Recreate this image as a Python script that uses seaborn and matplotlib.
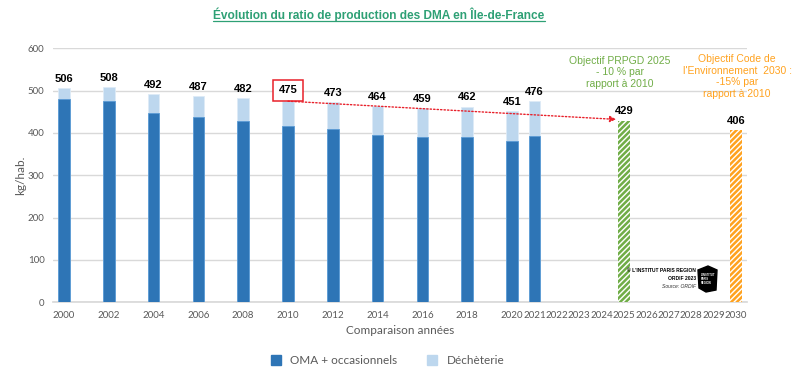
import matplotlib
matplotlib.use("Agg")
import matplotlib.pyplot as plt
import seaborn as sns
import pandas as pd
from matplotlib.patches import Polygon
from matplotlib.lines import Line2D

# ---------------- data ----------------
years = ["2000", "2002", "2004", "2006", "2008", "2010", "2012", "2014", "2016", "2018", "2020", "2021"]
oma = [480, 476, 447, 437, 428, 416, 409, 395, 390, 391, 381, 393]
decheterie = [26, 32, 45, 50, 54, 59, 64, 69, 69, 71, 70, 83]
totals = [506, 508, 492, 487, 482, 475, 473, 464, 459, 462, 451, 476]

target_years = ["2025", "2030"]
target_values = [429, 406]

axis_years = [str(y) for y in range(2000, 2031)]
shown_ticks = ["2000", "2002", "2004", "2006", "2008", "2010", "2012", "2014", "2016", "2018",
               "2020", "2021", "2022", "2023", "2024", "2025", "2026", "2027", "2028", "2029", "2030"]

# ---------------- style ----------------
sns.set_theme(style="white")
plt.rcParams["font.family"] = ["Liberation Sans", "DejaVu Sans"]
plt.rcParams["hatch.linewidth"] = 1.8

DARK = "#2E75B6"
LIGHT = "#BDD7EE"
GREEN = "#70AD47"
ORANGE = "#FFA21F"
GRAY = "#595959"
TITLE = "#2EA075"

fig = plt.figure(figsize=(8, 3.8), dpi=100)
ax = fig.add_axes([0.066, 0.2045, 0.868, 0.6685])

stack_top = [o + d for o, d in zip(oma, decheterie)]
df = pd.DataFrame({"year": years, "oma": oma, "top": stack_top})
df_t = pd.DataFrame({"year": target_years, "value": target_values})

sns.barplot(data=df, x="year", y="top", order=axis_years, color=LIGHT, saturation=1,
            width=0.52, ax=ax, edgecolor="#DDEBF7", linewidth=0.6, zorder=2)
sns.barplot(data=df, x="year", y="oma", order=axis_years, color=DARK, saturation=1,
            width=0.52, ax=ax, edgecolor="#5B9BD5", linewidth=0.6, zorder=3)
sns.barplot(data=df_t, x="year", y="value", order=axis_years, palette=[GREEN, ORANGE],
            hue="year", legend=False, saturation=1, width=0.52, ax=ax, zorder=3)

# hatch target bars
for cont, col in zip(ax.containers[2:], [GREEN, ORANGE]):
    for p in cont:
        if p.get_height() and p.get_height() > 0:
            p.set_facecolor("white")
            p.set_edgecolor(col)
            p.set_hatch("//////")
            p.set_linewidth(0)

ax.set_ylim(0, 600)
ax.set_xlim(-0.5, 30.5)
ax.set_yticks([0, 100, 200, 300, 400, 500, 600])
ax.grid(axis="y", color="#D9D9D9", linewidth=1, zorder=0)
ax.set_axisbelow(True)
for s in ["top", "right", "left"]:
    ax.spines[s].set_visible(False)
ax.spines["bottom"].set_color("#D9D9D9")
ax.tick_params(axis="both", length=0, labelsize=7, labelcolor=GRAY, pad=6)
ax.set_xticks(range(len(axis_years)))
ax.set_xticklabels([y if y in shown_ticks else "" for y in axis_years], fontfamily="Lato")
for lab in ax.get_yticklabels():
    lab.set_fontfamily("Lato")
ax.set_xlabel("Comparaison années", fontsize=8.5, color=GRAY, fontfamily="Lato", labelpad=4)
ax.set_ylabel("kg/hab.", fontsize=8.5, color=GRAY, fontfamily="Lato", labelpad=1)

pos = {y: i for i, y in enumerate(axis_years)}

# value labels
for y, t in zip(years, totals):
    if y == "2010":
        ax.text(pos[y], t + 14, str(t), ha="center", va="bottom", fontsize=8, fontweight="bold",
                color="black", zorder=6,
                bbox=dict(boxstyle="square,pad=0.5", fc="white", ec="#E8202A", lw=1.1))
    else:
        ax.text(pos[y], t + 10, str(t), ha="center", va="bottom", fontsize=8, fontweight="bold",
                color="black", zorder=6)
for y, t in zip(target_years, target_values):
    ax.text(pos[y], t + 10, str(t), ha="center", va="bottom", fontsize=8, fontweight="bold",
            color="black", zorder=6)

# red dotted arrow
ax.annotate("", xy=(pos["2025"] - 0.35, 432), xytext=(pos["2010"], 475),
            arrowprops=dict(arrowstyle="-|>", color="#E8202A", linestyle=(0, (1, 1.5)),
                            lw=1, mutation_scale=9, shrinkA=0, shrinkB=0), zorder=7)

# objective annotations
ax.text(pos["2025"] - 0.2, 582, "Objectif PRPGD 2025\n- 10 % par\nrapport à 2010", ha="center",
        va="top", fontsize=7.5, color=GREEN, linespacing=1.2)
ax.text(pos["2030"] + 0.05, 587, "Objectif Code de\nl'Environnement  2030 :\n-15% par\nrapport à 2010",
        ha="center", va="top", fontsize=7.5, color=ORANGE, linespacing=1.22)

# logo / source block
fig.text(696 / 800, 1 - 270 / 380, "© L'INSTITUT PARIS REGION", ha="right", va="center",
         fontsize=3.6, fontweight="bold", color="black")
fig.text(696 / 800, 1 - 278 / 380, "ORDIF 2023", ha="right", va="center",
         fontsize=3.6, fontweight="bold", color="black")
fig.text(696 / 800, 1 - 286 / 380, "Source: ORDIF", ha="right", va="center",
         fontsize=3.6, style="italic", color="#333333")
logo = Polygon([[698 / 800, 1 - 270 / 380], [708 / 800, 1 - 266 / 380], [717 / 800, 1 - 270 / 380],
                [716 / 800, 1 - 290 / 380], [706 / 800, 1 - 292 / 380], [699 / 800, 1 - 288 / 380]],
               closed=True, transform=fig.transFigure, fc="black", ec="black", zorder=8)
fig.patches.append(logo)
fig.text(701 / 800, 1 - 279 / 380, "L'INSTITUT\nPARIS\nREGION", ha="left", va="center",
         fontsize=2.0, color="white", fontweight="bold", linespacing=1.0, zorder=9)

# title with underline
title = fig.text(379 / 800, 1 - 15 / 380, "Évolution du ratio de production des DMA en Île-de-France",
                 ha="center", va="center", fontsize=8.6, fontweight="bold", color=TITLE)
fig.canvas.draw()
bb = title.get_window_extent().transformed(fig.transFigure.inverted())
fig.add_artist(Line2D([bb.x0, bb.x1], [bb.y0 + 0.002, bb.y0 + 0.002], transform=fig.transFigure,
                      color=TITLE, lw=0.9))

# legend
handles = [Line2D([], [], marker="s", linestyle="", markersize=6.5, color=DARK),
           Line2D([], [], marker="s", linestyle="", markersize=6.5, color=LIGHT)]
fig.legend(handles, ["OMA + occasionnels", "Déchèterie"], loc="center", bbox_to_anchor=(0.48, 1 - 361 / 380),
           ncol=2, frameon=False, prop={"family": "Lato", "size": 8.5}, labelcolor=GRAY,
           handletextpad=0.2, columnspacing=2.0)

fig.savefig("out.png", dpi=100)
